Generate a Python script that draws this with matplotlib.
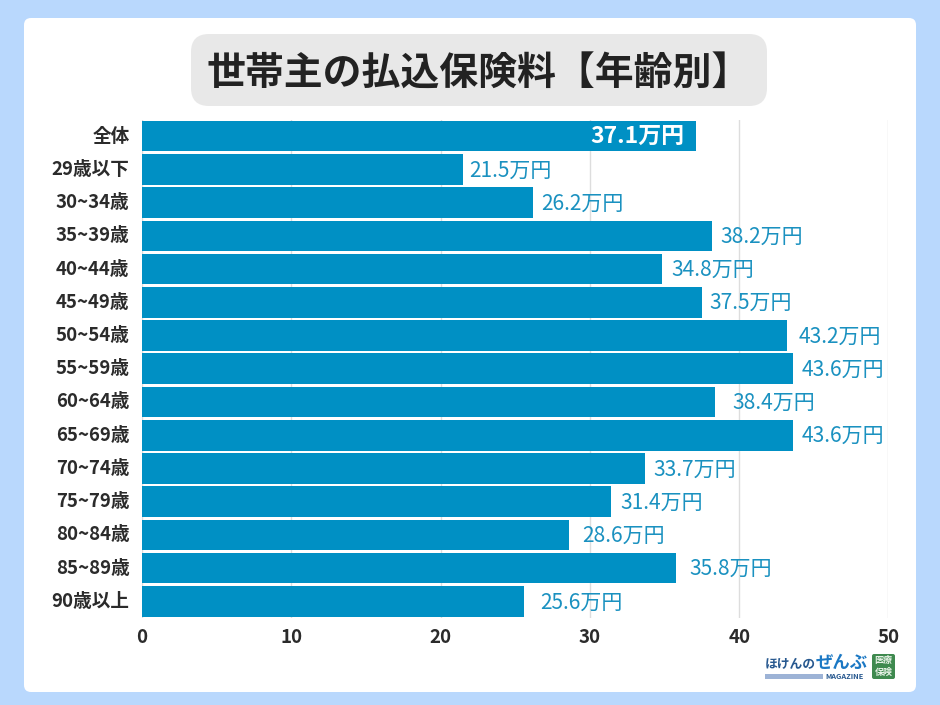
import matplotlib
matplotlib.use("Agg")
import matplotlib.pyplot as plt
from matplotlib.patches import FancyBboxPatch, Rectangle

plt.rcParams['font.family'] = ['Noto Sans CJK JP', 'DejaVu Sans']

# data
categories = ['全体', '29歳以下', '30~34歳', '35~39歳', '40~44歳', '45~49歳', '50~54歳', '55~59歳',
              '60~64歳', '65~69歳', '70~74歳', '75~79歳', '80~84歳', '85~89歳', '90歳以上']
values = [37.1, 21.5, 26.2, 38.2, 34.8, 37.5, 43.2, 43.6, 38.4, 43.6, 33.7, 31.4, 28.6, 35.8, 25.6]
x_ticks = [0, 10, 20, 30, 40, 50]
title = '世帯主の払込保険料【年齢別】'

bar_color = '#0090c4'
label_color = '#1a91c0'
text_color = '#2b2b2b'

W, H = 940, 705
fig = plt.figure(figsize=(W / 100, H / 100), dpi=100, facecolor='#b9d8fd')

# background layer in pixel coords
bg = fig.add_axes([0, 0, 1, 1])
bg.set_xlim(0, W)
bg.set_ylim(H, 0)
bg.axis('off')
bg.add_patch(FancyBboxPatch((24, 18), 892, 674, boxstyle='round,pad=0,rounding_size=7',
                            fc='white', ec='none'))
bg.add_patch(FancyBboxPatch((191, 34), 576, 72, boxstyle='round,pad=0,rounding_size=18',
                            fc='#e8e8e8', ec='none'))
bg.text(206, 74, title, ha='left', va='center', fontsize=28, fontweight='bold', color='#222222')

# logo
bg.text(765, 665, 'ほけんの', ha='left', va='center', fontsize=9.2, fontweight='bold', color='#27588f')
bg.text(816, 663, 'ぜんぶ', ha='left', va='center', fontsize=12.5, fontweight='bold', color='#1b78c4')
bg.add_patch(Rectangle((765, 674), 58, 5, fc='#9db3d6', ec='none'))
bg.text(825, 676.5, 'MAGAZINE', ha='left', va='center', fontsize=5.4, fontweight='bold', color='#27588f')
bg.add_patch(FancyBboxPatch((872, 654), 23, 25, boxstyle='round,pad=0,rounding_size=2', fc='#3f8a4f', ec='none'))
bg.text(883.5, 660.5, '医療', ha='center', va='center', fontsize=6.5, fontweight='bold', color='#e6f2e6')
bg.text(883.5, 672.5, '保険', ha='center', va='center', fontsize=6.5, fontweight='bold', color='#e6f2e6')

# chart
ax = fig.add_axes([142 / W, 1 - 618 / H, (888.5 - 142) / W, (618 - 119.5) / H])
ax.patch.set_alpha(0)
y_pos = list(range(len(categories)))
ax.barh(y_pos, values, height=0.92, color=bar_color, zorder=2)
ax.set_xlim(0, 50)
ax.set_ylim(len(categories) - 0.5, -0.5)
ax.set_yticks(y_pos, categories)
ax.set_xticks(x_ticks)
ax.grid(axis='x', color='#dddddd', lw=1, zorder=0)
ax.set_axisbelow(True)
for s in ax.spines.values():
    s.set_visible(False)
ax.tick_params(length=0)
ax.tick_params(axis='y', pad=9, labelsize=13.4, labelcolor=text_color)
ax.tick_params(axis='x', pad=7, labelsize=13.5, labelcolor=text_color)
for lab in ax.get_yticklabels() + ax.get_xticklabels():
    lab.set_fontweight('bold')
for lab in ax.get_yticklabels():
    lab.set_va('center')

# the labels do not sit at an even distance from the bar ends in the original
label_pads = [-12, 6, 8, 8, 10, 8, 12, 9, 17, 9, 8, 10, 13, 13, 16]
for i, v in enumerate(values):
    if i == 0:
        ax.annotate(f'{v}万円', (v, i), xytext=(label_pads[i], 0), textcoords='offset pixels', ha='right',
                    va='center', fontsize=16.5, fontweight='bold', color='white', zorder=4)
    else:
        ax.annotate(f'{v}万円', (v, i), xytext=(label_pads[i], -1), textcoords='offset pixels', ha='left',
                    va='center', fontsize=15.1, color=label_color, zorder=4)

fig.savefig('out.png', dpi=100, facecolor=fig.get_facecolor())
